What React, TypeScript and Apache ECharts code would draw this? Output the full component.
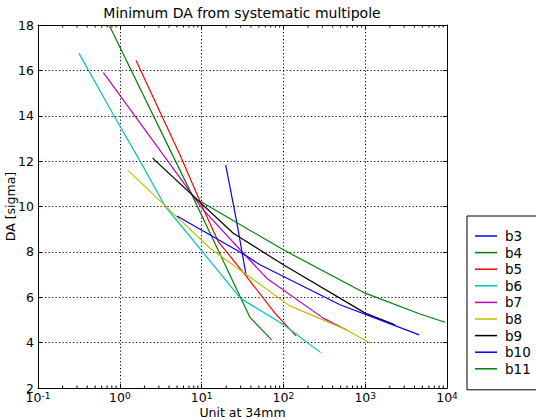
import React, { useEffect, useRef } from "react";
import * as echarts from "echarts";

const TITLE = "Minimum DA from systematic multipole";
const X_NAME = "Unit at 34mm";
const Y_NAME = "DA [sigma]";

const SERIES_NAMES = ["b3", "b4", "b5", "b6", "b7", "b8", "b9", "b10", "b11"];
const SERIES_COLORS = ["#0000ff", "#008000", "#ff0000", "#00bfbf", "#bf00bf", "#bfbf00", "#000000", "#0000ff", "#008000"];

const b3 = [[19.7, 11.83], [26.8, 9.34], [34.9, 7.0]];
const b4 = [[0.74, 18.0], [7.2, 10.7], [39.1, 5.11], [71.9, 4.12]];
const b5 = [[1.58, 16.43], [5.45, 12.27], [10, 10.07], [16, 8.45], [35.5, 6.91], [78.9, 5.3], [142.6, 4.3]];
const b6 = [[0.317, 16.75], [0.85, 14.0], [1.77, 12.0], [3.6, 10.0], [10, 8.05], [30, 5.95], [100, 4.8], [286, 3.56]];
const b7 = [[0.63, 15.9], [10.5, 9.85], [32.4, 7.94], [62.5, 6.84], [307, 5.08], [594, 4.56]];
const b8 = [[1.27, 11.58], [5.45, 9.41], [12.7, 8.16], [35.5, 6.99], [120, 5.62], [594, 4.56], [1146, 3.98]];
const b9 = [[2.52, 12.13], [24.4, 8.82], [100, 7.43], [1000, 5.3], [2312, 4.78]];
const b10 = [[5.0, 9.58], [32.4, 7.91], [51.7, 7.43], [492, 5.67], [4581, 4.34]];
const b11 = [[9.75, 10.22], [100, 8.09], [1000, 6.18], [4677, 5.26], [9470, 4.9]];
const SERIES_DATA = [b3, b4, b5, b6, b7, b8, b9, b10, b11];

const X_MIN = 0.1;
const X_MAX = 10000;
const Y_MIN = 2;
const Y_MAX = 18;
const Y_INTERVAL = 2;
const MINOR_TICKS = [
  0.2, 0.3, 0.4, 0.5, 0.6, 0.7, 0.8, 0.9,
  2, 3, 4, 5, 6, 7, 8, 9,
  20, 30, 40, 50, 60, 70, 80, 90,
  200, 300, 400, 500, 600, 700, 800, 900,
  2000, 3000, 4000, 5000, 6000, 7000, 8000, 9000,
];

const FONT = "DejaVu Sans";
const dotted = { color: "#000", width: 1, type: [1.2, 2.3] as any };

export default function App() {
  const ref = useRef<HTMLDivElement>(null);
  useEffect(() => {
    if (!ref.current) return;
    const chart = echarts.init(ref.current, undefined, { renderer: "svg" });
    const lineSeries = SERIES_NAMES.map((name, i) => ({
      name,
      type: "line",
      data: SERIES_DATA[i],
      color: SERIES_COLORS[i],
      showSymbol: false,
      symbol: "none",
      lineStyle: { width: 1.2, color: SERIES_COLORS[i] },
      xAxisIndex: 0,
      yAxisIndex: 0,
      z: 3 + i,
    }));
    const minorSeries = {
      type: "custom",
      name: "minor",
      silent: true,
      xAxisIndex: 0,
      yAxisIndex: 0,
      data: MINOR_TICKS.map((v) => [v, Y_MIN]),
      z: 10,
      renderItem: (params: any, api: any) => {
        const v = api.value(0);
        const b = api.coord([v, Y_MIN]);
        const t = api.coord([v, Y_MAX]);
        return {
          type: "group",
          children: [
            { type: "line", shape: { x1: b[0], y1: b[1], x2: b[0], y2: b[1] - 2.5 }, style: { stroke: "#000", lineWidth: 1 } },
            { type: "line", shape: { x1: t[0], y1: t[1], x2: t[0], y2: t[1] + 2.5 }, style: { stroke: "#000", lineWidth: 1 } },
          ],
        };
      },
    };
    chart.setOption({
      animation: false,
      backgroundColor: "#fff",
      textStyle: { fontFamily: FONT, color: "#000" },
      title: {
        text: TITLE,
        left: 237,
        textAlign: "center",
        top: 1,
        textStyle: { fontFamily: FONT, fontSize: 14, fontWeight: "normal", color: "#000" },
      },
      grid: { left: 38, top: 25, right: 89, bottom: 31, containLabel: false, outerBoundsMode: "none" },
      legend: {
        data: SERIES_NAMES.map((n) => ({ name: n, icon: "rect" })),
        orient: "vertical",
        left: 467,
        top: 216,
        padding: [13, 40, 14, 8],
        itemGap: 2.6,
        itemWidth: 22,
        itemHeight: 1.5,
        borderColor: "#000",
        borderWidth: 1,
        borderRadius: 0,
        backgroundColor: "#fff",
        textStyle: { fontFamily: FONT, fontSize: 13.5, lineHeight: 14, color: "#000", padding: [0, 0, 0, 3] },
      },
      xAxis: [
        {
          type: "log",
          logBase: 10,
          min: X_MIN,
          max: X_MAX,
          position: "bottom",
          name: X_NAME,
          nameLocation: "middle",
          nameGap: 18,
          nameMoveOverlap: false,
          nameTextStyle: { fontFamily: FONT, fontSize: 12.5, color: "#000" },
          axisLine: { show: true, onZero: false, lineStyle: { color: "#000", width: 1 } },
          axisTick: { show: true, inside: true, length: 4, lineStyle: { color: "#000" } },
          axisLabel: {
            show: true,
            margin: 3,
            color: "#000",
            fontSize: 12.5,
            lineHeight: 13,
            fontFamily: FONT,
            showMinLabel: true,
            showMaxLabel: true,
            formatter: (v: number) => "10{sup|" + Math.round(Math.log10(v)) + "}",
            rich: { sup: { fontSize: 9, lineHeight: 13, verticalAlign: "top", fontFamily: FONT, color: "#000", padding: [0, 0, 5, 0] } },
          },
          splitLine: { show: true, lineStyle: dotted },
        },
        {
          type: "log",
          logBase: 10,
          min: X_MIN,
          max: X_MAX,
          position: "top",
          axisLine: { show: true, onZero: false, lineStyle: { color: "#000", width: 1 } },
          axisTick: { show: true, inside: true, length: 4, lineStyle: { color: "#000" } },
          axisLabel: { show: false },
          splitLine: { show: false },
        },
      ],
      yAxis: [
        {
          type: "value",
          min: Y_MIN,
          max: Y_MAX,
          interval: Y_INTERVAL,
          position: "left",
          name: Y_NAME,
          nameLocation: "middle",
          nameGap: 21,
          nameMoveOverlap: false,
          nameTextStyle: { fontFamily: FONT, fontSize: 12.5, color: "#000" },
          axisLine: { show: true, onZero: false, lineStyle: { color: "#000", width: 1 } },
          axisTick: { show: true, inside: true, length: 4, lineStyle: { color: "#000" } },
          axisLabel: { show: true, margin: 4, color: "#000", fontSize: 12.5, fontFamily: FONT },
          splitLine: { show: true, lineStyle: dotted },
        },
        {
          type: "value",
          min: Y_MIN,
          max: Y_MAX,
          interval: Y_INTERVAL,
          position: "right",
          axisLine: { show: true, onZero: false, lineStyle: { color: "#000", width: 1 } },
          axisTick: { show: true, inside: true, length: 4, lineStyle: { color: "#000" } },
          axisLabel: { show: false },
          splitLine: { show: false },
        },
      ],
      series: [...lineSeries, minorSeries],
    });
    return () => chart.dispose();
  }, []);
  return (
    <div
      ref={ref}
      style={{ position: "fixed", left: 0, top: 0, width: 536, height: 419, background: "#fff" }}
    />
  );
}
